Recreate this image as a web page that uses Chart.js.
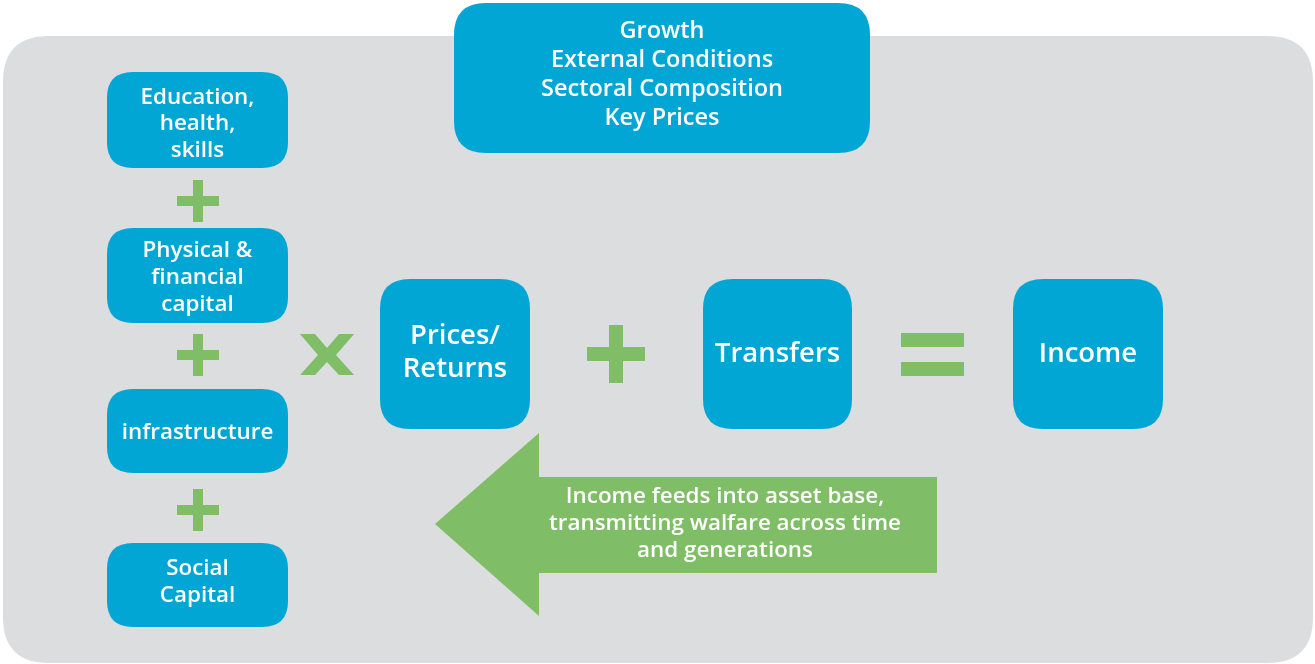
<!DOCTYPE html>
<html>
<head>
<meta charset="utf-8">
<script src="https://cdn.jsdelivr.net/npm/chart.js@4"></script>
<style>
  html, body { margin: 0; padding: 0; background: #ffffff; }
  #wrap { width: 1315px; height: 664px; }
</style>
</head>
<body>
<div id="wrap"><canvas id="diagram" width="1315" height="664"></canvas></div>
<script>
// Diagram data (in diagram units, 0..1315 across, 0..664 down)
const boxLabels = [
    ["Growth", "External Conditions", "Sectoral Composition", "Key Prices"],
    ["Education,", "health,", "skills"],
    ["Physical &", "financial", "capital"],
    ["infrastructure"],
    ["Social", "Capital"],
    ["Prices/", "Returns"],
    ["Transfers"],
    ["Income"]
];
const boxLeft   = [454, 107, 107, 107, 107, 380, 703, 1013];
const boxRight  = [870, 288, 288, 288, 288, 530, 852, 1163];
const boxTop    = [3,   72,  228, 389, 543, 279, 279, 279];
const boxBottom = [153, 168, 323, 473, 627, 429, 429, 429];
const boxTextMid  = [75, 124, 277.5, 433, 582.5, 353, 354.5, 354.5];
const boxFontSize = [23.5, 22.4, 22.4, 22.4, 22.4, 27.5, 27.5, 27.5];
const boxLineGap  = [29, 26.5, 27, 27, 27, 33, 33, 33];

// operators between the boxes
const opSymbol = ["+", "+", "+", "x", "+", "="];
const opX      = [198, 198, 198, 327, 616, 932];
const opY      = [201, 355, 510, 355, 354, 355];

// feedback arrow
const arrowTip   = [435, 524];
const arrowNeck  = 539;
const arrowEnd   = 937;
const arrowHead  = [433, 616];
const arrowBody  = [477, 573];
const arrowText  = ["Income feeds into asset base,", "transmitting walfare across time", "and generations"];

const BLUE = '#02a6d4';
const GREEN = '#7fbd66';
const GREY = '#dcdddf';
const FONT = '"Open Sans", "Noto Sans", sans-serif';

function roundRect(ctx, x0, y0, x1, y1, r) {
    ctx.beginPath();
    ctx.moveTo(x0 + r, y0);
    ctx.lineTo(x1 - r, y0);
    ctx.quadraticCurveTo(x1, y0, x1, y0 + r);
    ctx.lineTo(x1, y1 - r);
    ctx.quadraticCurveTo(x1, y1, x1 - r, y1);
    ctx.lineTo(x0 + r, y1);
    ctx.quadraticCurveTo(x0, y1, x0, y1 - r);
    ctx.lineTo(x0, y0 + r);
    ctx.quadraticCurveTo(x0, y0, x0 + r, y0);
    ctx.closePath();
}

function lines(ctx, list, cx, cy, size, gap) {
    ctx.font = '600 ' + size + 'px ' + FONT;
    ctx.fillStyle = '#ffffff';
    ctx.textAlign = 'center';
    ctx.textBaseline = 'middle';
    const start = cy - (list.length - 1) * gap / 2;
    list.forEach((t, i) => ctx.fillText(t, cx, start + i * gap));
}

const diagramPlugin = {
    id: 'diagram',
    beforeDatasetsDraw(chart) {
        const ctx = chart.ctx;
        const X = v => chart.scales.x.getPixelForValue(v);
        const Y = v => chart.scales.y.getPixelForValue(v);
        ctx.save();

        // grey panel
        ctx.fillStyle = GREY;
        roundRect(ctx, X(3), Y(36), X(1313), Y(663), 46);
        ctx.fill();

        // boxes
        boxLabels.forEach((lab, i) => {
            const x0 = X(boxLeft[i]), x1 = X(boxRight[i]);
            const y0 = Y(boxTop[i]), y1 = Y(boxBottom[i]);
            const r = i === 0 ? 32 : (i >= 5 ? 30 : 26);
            ctx.fillStyle = BLUE;
            roundRect(ctx, x0, y0, x1, y1, r);
            ctx.fill();
            lines(ctx, lab, (x0 + x1) / 2, Y(boxTextMid[i]), boxFontSize[i], boxLineGap[i]);
        });

        // operators
        ctx.fillStyle = GREEN;
        opSymbol.forEach((s, i) => {
            const cx = X(opX[i]), cy = Y(opY[i]);
            if (s === '+') {
                const big = i === 4;
                const half = big ? 29 : 21;
                const t = big ? 14 : 10;
                ctx.fillRect(cx - t / 2, cy - half, t, half * 2);
                ctx.fillRect(cx - half, cy - t / 2, half * 2, t);
            } else if (s === '=') {
                ctx.fillRect(cx - 31, cy - 22, 63, 14);
                ctx.fillRect(cx - 31, cy + 7, 63, 14);
            } else if (s === 'x') {
                // thick saltire, 55 wide x 41 tall
                ctx.beginPath();
                ctx.moveTo(cx - 27, cy - 21);
                ctx.lineTo(cx - 12, cy - 21);
                ctx.lineTo(cx, cy - 7);
                ctx.lineTo(cx + 12, cy - 21);
                ctx.lineTo(cx + 27, cy - 21);
                ctx.lineTo(cx + 9, cy);
                ctx.lineTo(cx + 27, cy + 20);
                ctx.lineTo(cx + 12, cy + 20);
                ctx.lineTo(cx, cy + 7);
                ctx.lineTo(cx - 12, cy + 20);
                ctx.lineTo(cx - 27, cy + 20);
                ctx.lineTo(cx - 9, cy);
                ctx.closePath();
                ctx.fill();
            }
        });

        // arrow
        ctx.beginPath();
        ctx.moveTo(X(arrowTip[0]), Y(arrowTip[1]));
        ctx.lineTo(X(arrowNeck), Y(arrowHead[0]));
        ctx.lineTo(X(arrowNeck), Y(arrowBody[0]));
        ctx.lineTo(X(arrowEnd), Y(arrowBody[0]));
        ctx.lineTo(X(arrowEnd), Y(arrowBody[1]));
        ctx.lineTo(X(arrowNeck), Y(arrowBody[1]));
        ctx.lineTo(X(arrowNeck), Y(arrowHead[1]));
        ctx.closePath();
        ctx.fill();
        lines(ctx, arrowText, X(725), Y(524), 22.4, 27);

        ctx.restore();
    }
};

new Chart(document.getElementById('diagram').getContext('2d'), {
    type: 'scatter',
    data: { datasets: [{ data: [], pointRadius: 0 }] },
    options: {
        responsive: false,
        animation: false,
        events: [],
        layout: { padding: 0 },
        plugins: { legend: { display: false }, tooltip: { enabled: false } },
        scales: {
            x: { type: 'linear', min: 0, max: 1315, display: false },
            y: { type: 'linear', min: 0, max: 664, reverse: true, display: false }
        }
    },
    plugins: [diagramPlugin]
});
</script>
</body>
</html>
